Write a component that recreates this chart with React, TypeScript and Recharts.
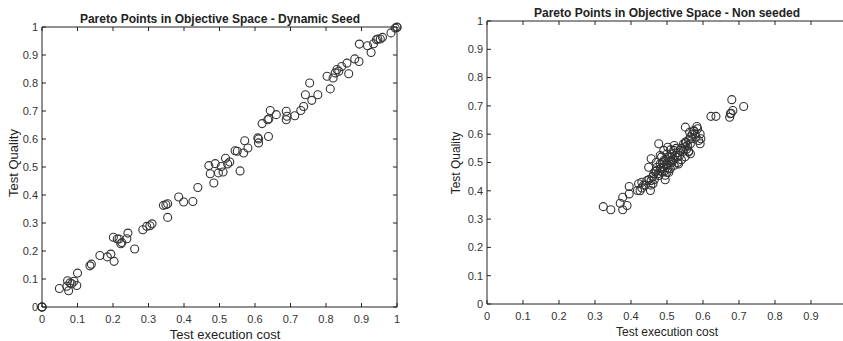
import React from 'react';
import { ScatterChart, Scatter, XAxis, YAxis, ReferenceLine } from 'recharts';

// Dynamic seed run
const dynamicCost = [
  0, 0, 0, 0.049, 0.072, 0.07, 0.075, 0.079, 0.084, 0.09, 0.098, 0.1, 0.135, 0.139, 0.163, 0.184,
  0.194, 0.201, 0.203, 0.212, 0.217, 0.222, 0.225, 0.239, 0.242, 0.261, 0.284, 0.295, 0.304, 0.31,
  0.354, 0.342, 0.349, 0.354, 0.385, 0.399, 0.425, 0.439, 0.47, 0.474, 0.484, 0.488, 0.497, 0.505,
  0.51, 0.517, 0.523, 0.529, 0.544, 0.55, 0.558, 0.568, 0.571, 0.58, 0.608, 0.61, 0.61, 0.62, 0.636,
  0.639, 0.638, 0.643, 0.66, 0.688, 0.688, 0.69, 0.712, 0.729, 0.737, 0.742, 0.754, 0.76, 0.777,
  0.803, 0.812, 0.82, 0.826, 0.831, 0.836, 0.844, 0.859, 0.864, 0.881, 0.894, 0.893, 0.917, 0.927,
  0.934, 0.942, 0.946, 0.953, 0.959, 0.983, 0.995, 1, 1,
];
const dynamicQuality = [
  0, 0, 0, 0.066, 0.094, 0.074, 0.058, 0.086, 0.083, 0.092, 0.077, 0.121, 0.147, 0.153, 0.184, 0.179,
  0.189, 0.249, 0.163, 0.243, 0.243, 0.226, 0.23, 0.244, 0.264, 0.207, 0.276, 0.288, 0.29, 0.297,
  0.32, 0.363, 0.365, 0.369, 0.393, 0.375, 0.377, 0.427, 0.505, 0.476, 0.443, 0.512, 0.479, 0.502,
  0.482, 0.531, 0.511, 0.518, 0.558, 0.556, 0.486, 0.55, 0.594, 0.568, 0.604, 0.586, 0.6, 0.655, 0.669,
  0.672, 0.609, 0.702, 0.687, 0.669, 0.699, 0.681, 0.683, 0.702, 0.716, 0.758, 0.8, 0.738, 0.758,
  0.824, 0.779, 0.818, 0.836, 0.848, 0.842, 0.859, 0.871, 0.833, 0.886, 0.939, 0.877, 0.933, 0.909,
  0.94, 0.955, 0.957, 0.957, 0.963, 0.979, 0.996, 1, 0.998,
];

// Non seeded run
const nonSeededCost = [
  0.323, 0.344, 0.37, 0.377, 0.377, 0.389, 0.395, 0.395, 0.418, 0.421, 0.43, 0.435, 0.444, 0.449,
  0.454, 0.456, 0.456, 0.461, 0.463, 0.467, 0.472, 0.477, 0.477, 0.481, 0.481, 0.486, 0.491, 0.491,
  0.495, 0.498, 0.5, 0.502, 0.505, 0.509, 0.514, 0.519, 0.52, 0.528, 0.532, 0.537, 0.546, 0.551,
  0.555, 0.56, 0.565, 0.565, 0.563, 0.551, 0.569, 0.574, 0.578, 0.583, 0.585, 0.588, 0.592, 0.594,
  0.592, 0.622, 0.636, 0.674, 0.678, 0.68, 0.683, 0.676, 0.713,
  0.46, 0.47, 0.475, 0.48, 0.483, 0.487, 0.49, 0.493, 0.497, 0.5, 0.503, 0.506, 0.51, 0.512, 0.515,
  0.518, 0.522, 0.525, 0.53, 0.535, 0.54, 0.545, 0.55, 0.553, 0.557, 0.56, 0.565, 0.57, 0.575, 0.58,
  0.44, 0.45, 0.455, 0.465, 0.43, 0.425, 0.47, 0.485, 0.5, 0.51, 0.495, 0.505, 0.52, 0.53, 0.54,
  0.55, 0.56,
];
const nonSeededQuality = [
  0.344, 0.333, 0.356, 0.377, 0.333, 0.348, 0.389, 0.415, 0.401, 0.425, 0.43, 0.42, 0.436, 0.483,
  0.401, 0.513, 0.436, 0.425, 0.46, 0.468, 0.483, 0.566, 0.454, 0.495, 0.525, 0.468, 0.507, 0.543,
  0.439, 0.49, 0.465, 0.554, 0.519, 0.478, 0.501, 0.543, 0.56, 0.519, 0.495, 0.543, 0.566, 0.572,
  0.548, 0.537, 0.531, 0.566, 0.607, 0.625, 0.584, 0.613, 0.601, 0.627, 0.619, 0.578, 0.601, 0.584,
  0.566, 0.663, 0.663, 0.66, 0.674, 0.722, 0.684, 0.672, 0.698,
  0.45, 0.47, 0.46, 0.47, 0.48, 0.5, 0.485, 0.47, 0.51, 0.495, 0.48, 0.5, 0.52, 0.505, 0.53,
  0.51, 0.525, 0.55, 0.535, 0.525, 0.55, 0.54, 0.555, 0.57, 0.56, 0.58, 0.59, 0.6, 0.61, 0.59,
  0.42, 0.44, 0.42, 0.44, 0.41, 0.4, 0.5, 0.52, 0.53, 0.545, 0.455, 0.465, 0.49, 0.5, 0.51,
  0.52, 0.54,
];

const xTicksLeft = [0, 0.1, 0.2, 0.3, 0.4, 0.5, 0.6, 0.7, 0.8, 0.9, 1];
// the right panel is cut at the window edge, so its last visible tick is 0.9
const xTicksRight = [0, 0.1, 0.2, 0.3, 0.4, 0.5, 0.6, 0.7, 0.8, 0.9];
const yTicks = [0, 0.1, 0.2, 0.3, 0.4, 0.5, 0.6, 0.7, 0.8, 0.9, 1];

const zip = (xs: number[], ys: number[]) => xs.map((x, i) => ({ cost: x, quality: ys[i] }));
const dynamicData = zip(dynamicCost, dynamicQuality);
const nonSeededData = zip(nonSeededCost, nonSeededQuality);

const FONT = '"Liberation Sans", Arial, sans-serif';
const AXIS = '#222';
const LABEL_GAP_X = 12;
const LABEL_GAP_Y = 4;

const makeXTick = (plotH: number) => (props: any) => {
  const { x, y, payload } = props;
  const axisY = y - LABEL_GAP_X;
  return (
    <g>
      <line x1={x} x2={x} y1={axisY} y2={axisY - 4} stroke={AXIS} />
      <line x1={x} x2={x} y1={axisY - plotH} y2={axisY - plotH + 4} stroke={AXIS} />
      <text x={x} y={y} dy="0.35em" textAnchor="middle" fontSize={11} fill="#333" fontFamily={FONT}>
        {String(payload.value)}
      </text>
    </g>
  );
};

const makeYTick = (plotW: number) => (props: any) => {
  const { x, y, payload } = props;
  const axisX = x + LABEL_GAP_Y;
  return (
    <g>
      <line x1={axisX} x2={axisX + 4} y1={y} y2={y} stroke={AXIS} />
      <line x1={axisX + plotW} x2={axisX + plotW - 4} y1={y} y2={y} stroke={AXIS} />
      <text x={x} y={y} dy="0.35em" textAnchor="end" fontSize={11} fill="#333" fontFamily={FONT}>
        {String(payload.value)}
      </text>
    </g>
  );
};

const Ring = (props: any) => {
  const { cx, cy } = props;
  return <circle cx={cx} cy={cy} r={4} fill="none" stroke="#333" strokeWidth={1.1} />;
};

const Text = ({ x, y, size, bold, rotate, children }: any) => (
  <div
    style={{
      position: 'absolute',
      left: x,
      top: y,
      transform: `translate(-50%, -50%)${rotate ? ' rotate(-90deg)' : ''}`,
      fontFamily: FONT,
      fontSize: size,
      fontWeight: bold ? 'bold' : 'normal',
      color: '#222',
      whiteSpace: 'nowrap',
      lineHeight: 1,
    }}
  >
    {children}
  </div>
);

function Panel({ data, width, plotW, plotH, margin, xTicks }: any) {
  return (
    <ScatterChart width={width} height={341} margin={margin}>
      <XAxis
        type="number"
        dataKey="cost"
        domain={[0, 1]}
        ticks={xTicks}
        height={30}
        tickSize={0}
        tickMargin={LABEL_GAP_X}
        tickLine={false}
        stroke={AXIS}
        tick={makeXTick(plotH)}
        interval={0}
      />
      <YAxis
        type="number"
        dataKey="quality"
        domain={[0, 1]}
        ticks={yTicks}
        width={30}
        tickSize={0}
        tickMargin={LABEL_GAP_Y}
        tickLine={false}
        stroke={AXIS}
        tick={makeYTick(plotW)}
        interval={0}
      />
      <ReferenceLine y={1} stroke={AXIS} />
      <ReferenceLine x={1} stroke={AXIS} />
      <Scatter data={data} shape={Ring} isAnimationActive={false} />
    </ScatterChart>
  );
}

export default function App() {
  return (
    <div style={{ position: 'absolute', left: 0, top: 0, width: 843, height: 341, overflow: 'hidden', background: '#fff' }}>
      <div style={{ position: 'absolute', left: 0, top: 0 }}>
        <Panel data={dynamicData} xTicks={xTicksLeft} width={420} plotW={355} plotH={280} margin={{ top: 27, right: 23, left: 12, bottom: 4 }} />
      </div>
      <div style={{ position: 'absolute', left: 430, top: 0 }}>
        <Panel data={nonSeededData} xTicks={xTicksRight} width={440} plotW={360} plotH={283} margin={{ top: 21, right: 23, left: 27, bottom: 7 }} />
      </div>
      <Text x={220} y={19} size={12} bold>Pareto Points in Objective Space - Dynamic Seed</Text>
      <Text x={667} y={13} size={12} bold>Pareto Points in Objective Space - Non seeded</Text>
      <Text x={225} y={334} size={13}>Test execution cost</Text>
      <Text x={667} y={332} size={12}>Test execution cost</Text>
      <Text x={13} y={163} size={13} rotate>Test Quality</Text>
      <Text x={456} y={163} size={12} rotate>Test Quality</Text>
    </div>
  );
}
